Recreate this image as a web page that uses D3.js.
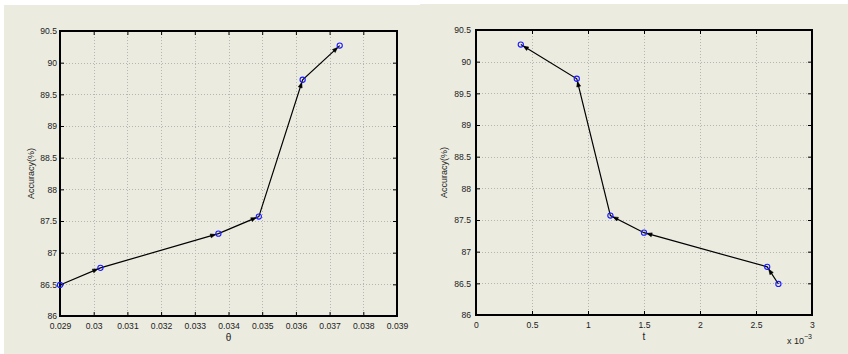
<!DOCTYPE html>
<html>
<head>
<meta charset="utf-8">
<script src="https://cdn.jsdelivr.net/npm/d3@7"></script>
<style>
  html, body { margin: 0; padding: 0; background: #ffffff; }
  svg { display: block; }
  text { font-family: "Liberation Sans", Arial, sans-serif; fill: #222; }
</style>
</head>
<body>
<svg id="fig" width="848" height="354"></svg>
<script>
// Accuracy as a function of the threshold θ
const thetaValues   = [0.029, 0.0302, 0.0337, 0.0349, 0.0362, 0.0373];
const accuracyTheta = [86.49, 86.76, 87.30, 87.57, 89.73, 90.27];

// Accuracy as a function of t (same runs, ordered by decreasing t)
const tValues   = [0.0027, 0.0026, 0.0015, 0.0012, 0.0009, 0.0004];
const accuracyT = [86.49, 86.76, 87.30, 87.57, 89.73, 90.27];

// Axis ticks and their labels
const thetaTicks      = [0.029, 0.030, 0.031, 0.032, 0.033, 0.034, 0.035, 0.036, 0.037, 0.038, 0.039];
const thetaTickLabels = ["0.029", "0.03", "0.031", "0.032", "0.033", "0.034", "0.035", "0.036", "0.037", "0.038", "0.039"];
const tTicks          = [0, 0.0005, 0.001, 0.0015, 0.002, 0.0025, 0.003];
const tTickLabels     = ["0", "0.5", "1", "1.5", "2", "2.5", "3"];
const accTicks        = [86, 86.5, 87, 87.5, 88, 88.5, 89, 89.5, 90, 90.5];
const accTickLabels   = ["86", "86.5", "87", "87.5", "88", "88.5", "89", "89.5", "90", "90.5"];

const svg = d3.select("#fig");
const BG = "#ebebe0";

// figure panels
svg.append("rect").attr("x", 4).attr("y", 5).attr("width", 416).attr("height", 349).attr("fill", BG);
svg.append("rect").attr("x", 420).attr("y", 4).attr("width", 428).attr("height", 350).attr("fill", BG);

function drawPanel(cfg) {
  const { left, right, top, bottom } = cfg;
  const x = d3.scaleLinear().domain([cfg.xTicks[0], cfg.xTicks[cfg.xTicks.length - 1]]).range([left, right]);
  const y = d3.scaleLinear().domain([accTicks[0], accTicks[accTicks.length - 1]]).range([bottom, top]);
  const g = svg.append("g");

  // dotted grid
  const grid = g.append("g").attr("stroke", "#b5b5b5").attr("stroke-width", 1).attr("stroke-dasharray", "1,2");
  cfg.xTicks.slice(1, -1).forEach(v => {
    grid.append("line").attr("x1", Math.round(x(v)) + 0.5).attr("x2", Math.round(x(v)) + 0.5)
      .attr("y1", top).attr("y2", bottom);
  });
  accTicks.slice(1, -1).forEach(v => {
    grid.append("line").attr("y1", Math.round(y(v)) + 0.5).attr("y2", Math.round(y(v)) + 0.5)
      .attr("x1", left).attr("x2", right);
  });

  const xFmt = (d, i) => cfg.xLabels[i];
  const yFmt = (d, i) => accTickLabels[i];

  const ax = (a) => a.call(s => s.select(".domain").remove())
    .call(s => s.selectAll("line").attr("stroke", "#000"))
    .call(s => s.selectAll("text").attr("font-size", 8.6).attr("fill", "#222").attr("font-family", "Liberation Sans, Arial, sans-serif"));

  g.append("g").attr("transform", `translate(0,${bottom})`)
    .call(d3.axisBottom(x).tickValues(cfg.xTicks).tickFormat(xFmt).tickSize(-4).tickPadding(6.5)).call(ax);
  g.append("g").attr("transform", `translate(0,${top})`)
    .call(d3.axisTop(x).tickValues(cfg.xTicks).tickFormat("").tickSize(-4)).call(ax);
  g.append("g").attr("transform", `translate(${left},0)`)
    .call(d3.axisLeft(y).tickValues(accTicks).tickFormat(yFmt).tickSize(-4).tickPadding(cfg.yPad)).call(ax);
  g.append("g").attr("transform", `translate(${right},0)`)
    .call(d3.axisRight(y).tickValues(accTicks).tickFormat("").tickSize(-4)).call(ax);

  // axes box
  g.append("rect").attr("x", left).attr("y", top).attr("width", right - left).attr("height", bottom - top)
    .attr("fill", "none").attr("stroke", "#000").attr("stroke-width", 2);

  // connecting line
  const pts = cfg.xs.map((v, i) => [x(v), y(cfg.ys[i])]);
  g.append("path").attr("d", d3.line()(pts)).attr("fill", "none").attr("stroke", "#000").attr("stroke-width", 1.2);

  // arrowheads pointing to the next point
  for (let i = 0; i < pts.length - 1; i++) {
    const [x0, y0] = pts[i], [x1, y1] = pts[i + 1];
    const dx = x1 - x0, dy = y1 - y0, len = Math.hypot(dx, dy);
    const ux = dx / len, uy = dy / len;
    const tipX = x1 - ux * 3, tipY = y1 - uy * 3;
    const hl = 5, hw = 2;
    const bx = tipX - ux * hl, by = tipY - uy * hl;
    g.append("path")
      .attr("d", `M${tipX},${tipY}L${bx - uy * hw},${by + ux * hw}L${bx + uy * hw},${by - ux * hw}Z`)
      .attr("fill", "#000").attr("stroke", "#000").attr("stroke-width", 0.6);
  }

  // markers
  g.selectAll("circle.m").data(pts).join("circle")
    .attr("cx", d => d[0]).attr("cy", d => d[1]).attr("r", 2.6)
    .attr("fill", "none").attr("stroke", "#1a1aff").attr("stroke-width", 1.1);

  // axis labels
  g.append("text").attr("x", (left + right) / 2).attr("y", bottom + 24.5)
    .attr("text-anchor", "middle").attr("font-size", 10).text(cfg.xTitle);
  g.append("text").attr("transform", `translate(${cfg.yTitleX},${(top + bottom) / 2}) rotate(-90)`)
    .attr("text-anchor", "middle").attr("font-size", 9).text("Accuracy(%)");

  if (cfg.exponent) {
    const t = g.append("text").attr("x", right).attr("y", bottom + 29).attr("text-anchor", "end").attr("font-size", 9);
    t.append("tspan").text("x 10");
    t.append("tspan").attr("dy", -5).attr("font-size", 7).text("\u22123");
  }
}

drawPanel({
  left: 60, right: 397, top: 31, bottom: 316,
  xTicks: thetaTicks, xLabels: thetaTickLabels,
  xs: thetaValues, ys: accuracyTheta,
  xTitle: "\u03b8", yTitleX: 34, yPad: 3
});

drawPanel({
  left: 476, right: 812, top: 30, bottom: 315,
  xTicks: tTicks, xLabels: tTickLabels,
  xs: tValues, ys: accuracyT,
  xTitle: "t", yTitleX: 447, yPad: 5, exponent: true
});
</script>
</body>
</html>
